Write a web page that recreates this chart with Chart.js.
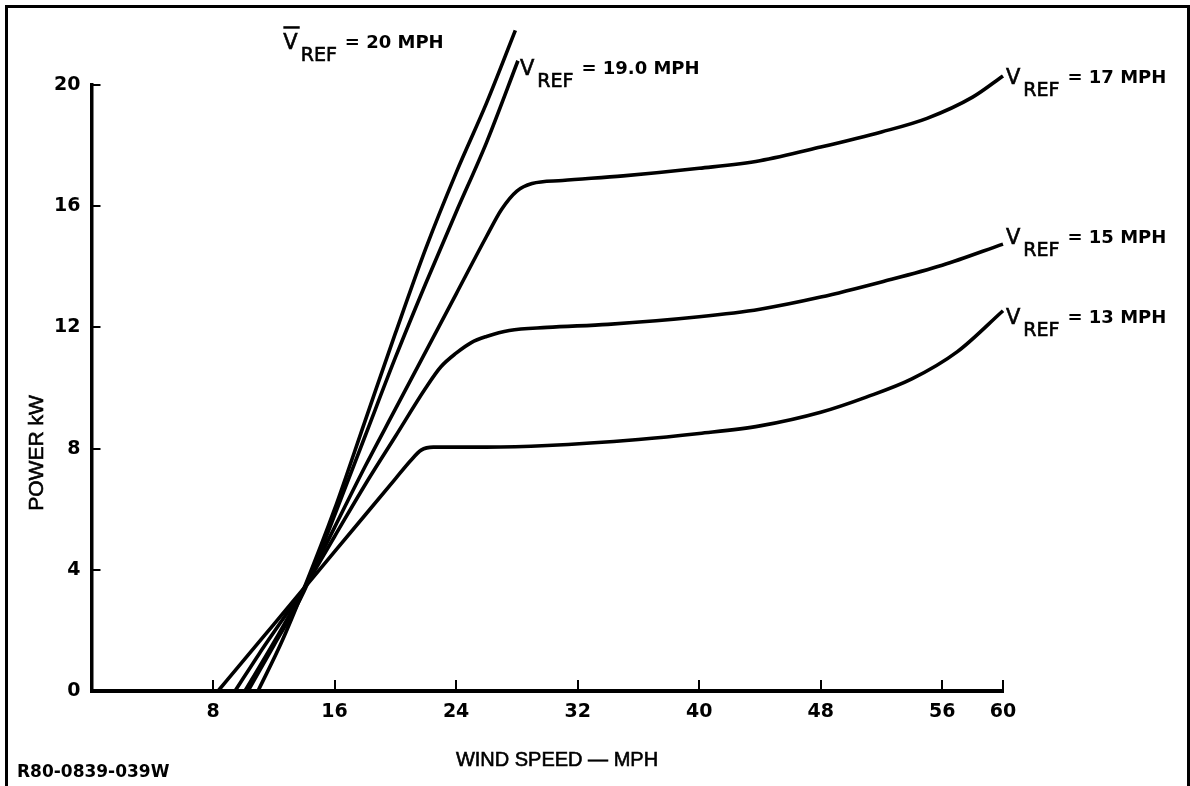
<!DOCTYPE html>
<html>
<head>
<meta charset="utf-8">
<title>Power vs wind speed</title>
<script src="https://cdn.jsdelivr.net/npm/chart.js@4.4.1/dist/chart.umd.min.js"></script>
<style>
  html, body { margin:0; padding:0; background:#fff; }
  #wrap { position:relative; width:1190px; height:786px; }
</style>
</head>
<body>
<div id="wrap"><canvas id="power-chart" width="1190" height="786"></canvas></div>
<script>
// ============================================================
//  DATA: power output (kW) against wind speed (mph), one curve per V_REF
// ============================================================
var xTickValues = [8, 16, 24, 32, 40, 48, 56, 60];
var yTickStep = 4;

var refSpeedLabels = ['20 MPH', '19.0 MPH', '17 MPH', '15 MPH', '13 MPH'];

var speed20 = [10.96, 12.5, 14, 16, 18, 20, 22, 24, 26, 27.9];
var power20 = [0, 1.6, 3.4, 6.0, 8.9, 11.8, 14.6, 17.1, 19.4, 21.8];

var speed19 = [10.3, 12, 14, 16, 18, 20, 22, 24, 26, 28.07];
var power19 = [0, 1.5, 3.3, 5.8, 8.4, 11.0, 13.45, 15.8, 18.1, 20.8];

var speed17 = [10.1, 12, 14, 16, 18, 20, 22, 24, 26, 27, 28, 29, 31, 35, 40, 44, 48, 52, 55, 58, 60];
var power17 = [0, 1.6, 3.4, 5.4, 7.4, 9.3, 11.2, 13.1, 15.0, 15.9, 16.5, 16.75, 16.85, 17.0, 17.25, 17.5, 17.95, 18.45, 18.9, 19.6, 20.3];

var speed15 = [9.45, 11, 12.5, 14, 16, 18, 20, 22, 23, 24, 25, 26, 27.5, 30, 34, 40, 44, 48, 52, 56, 60];
var power15 = [0, 1.2, 2.3, 3.4, 5.1, 6.8, 8.4, 10.0, 10.7, 11.15, 11.5, 11.7, 11.9, 12.0, 12.1, 12.35, 12.6, 13.0, 13.5, 14.05, 14.75];

var speed13 = [8.33, 10, 12, 14, 16, 18, 20, 21, 21.7, 22.5, 26, 30, 36, 40, 44, 48, 51, 54, 57, 60];
var power13 = [0, 1.0, 2.2, 3.4, 4.6, 5.8, 7.0, 7.6, 7.95, 8.05, 8.05, 8.1, 8.3, 8.5, 8.75, 9.2, 9.7, 10.3, 11.2, 12.55];

var curveSpeeds = [speed20, speed19, speed17, speed15, speed13];
var curvePowers = [power20, power19, power17, power15, power13];

// ============================================================
//  DRAWING
// ============================================================
var TICK_FONT = { family: '"DejaVu Sans", sans-serif', size: 19, weight: 'bold' };

// where each "V_REF = ..." label sits relative to the end of its curve
var labelOffsets = [[-232, 19], [2, 14], [3, 8], [3, 0], [3, 13]];

function toPoints(xs, ys) {
  return xs.map(function(x, i) { return { x: x, y: ys[i] }; });
}

// fill + hairline stroke so the lettering reads a little heavier
function heavyText(ctx, text, x, y) {
  ctx.fillText(text, x, y);
  ctx.lineWidth = 0.6;
  ctx.strokeText(text, x, y);
}

var annotate = {
  id: 'annotate',
  afterDraw: function(chart) {
    var ctx = chart.ctx, xs = chart.scales.x, ys = chart.scales.y, area = chart.chartArea;
    ctx.save();
    ctx.strokeStyle = '#000';
    ctx.fillStyle = '#000';
    ctx.lineCap = 'butt';

    // tick marks point into the plot
    ctx.lineWidth = 2;
    xTickValues.forEach(function(v) {
      var px = Math.round(xs.getPixelForValue(v));
      ctx.beginPath(); ctx.moveTo(px, area.bottom); ctx.lineTo(px, area.bottom - 11); ctx.stroke();
    });
    ys.ticks.forEach(function(t) {
      if (t.value === 0) return;
      var py = Math.round(ys.getPixelForValue(t.value));
      ctx.beginPath(); ctx.moveTo(area.left, py); ctx.lineTo(area.left + 9, py); ctx.stroke();
    });

    // axis titles
    ctx.textAlign = 'center';
    ctx.textBaseline = 'middle';
    ctx.font = '20px "Liberation Sans", sans-serif';
    heavyText(ctx, 'WIND SPEED \u2014 MPH', 557, 760);
    ctx.save();
    ctx.translate(37, 453);
    ctx.rotate(-Math.PI / 2);
    ctx.font = '21px "Liberation Sans", sans-serif';
    heavyText(ctx, 'POWER kW', 0, 0);
    ctx.restore();

    // curve labels: V(REF) = n MPH
    ctx.textAlign = 'left';
    ctx.textBaseline = 'alphabetic';
    chart.data.datasets.forEach(function(ds, i) {
      var last = ds.data[ds.data.length - 1];
      var x = xs.getPixelForValue(last.x) + labelOffsets[i][0];
      var y = ys.getPixelForValue(last.y) + labelOffsets[i][1];
      ctx.font = '21px "DejaVu Sans", sans-serif';
      heavyText(ctx, 'V', x, y);
      var vw = ctx.measureText('V').width;
      if (i === 0) {
        ctx.lineWidth = 2.5;
        ctx.beginPath(); ctx.moveTo(x, y - 22); ctx.lineTo(x + vw + 2, y - 22); ctx.stroke();
      }
      ctx.font = '19px "DejaVu Sans", sans-serif';
      heavyText(ctx, 'REF', x + vw + 3, y + 12);
      var rw = ctx.measureText('REF').width;
      ctx.font = 'bold 18px "DejaVu Sans", sans-serif';
      ctx.fillText('= ' + refSpeedLabels[i], x + vw + rw + 11, y - 1);
    });

    // drawing number
    ctx.font = 'bold 17px "DejaVu Sans", sans-serif';
    ctx.fillText('R80-0839-039W', 17, 777);

    // sheet frame
    ctx.lineWidth = 3;
    ctx.beginPath();
    ctx.moveTo(6.5, 786); ctx.lineTo(6.5, 6.5); ctx.lineTo(1188.5, 6.5); ctx.lineTo(1188.5, 786);
    ctx.stroke();
    ctx.restore();
  }
};

new Chart(document.getElementById('power-chart'), {
  type: 'line',
  data: {
    datasets: curveSpeeds.map(function(sp, i) {
      return {
        label: 'V_REF = ' + refSpeedLabels[i],
        data: toPoints(sp, curvePowers[i]),
        borderColor: '#000',
        borderWidth: 3.6,
        pointRadius: 0,
        cubicInterpolationMode: 'monotone',
        fill: false,
        clip: false
      };
    })
  },
  options: {
    responsive: false,
    animation: false,
    events: [],
    layout: { padding: { left: 0, right: 187, top: 85, bottom: 0 } },
    plugins: { legend: { display: false }, tooltip: { enabled: false } },
    scales: {
      x: {
        type: 'linear', min: 0, max: 60,
        afterFit: function(s) { s.height = 95; },
        afterBuildTicks: function(s) { s.ticks = xTickValues.map(function(v) { return { value: v }; }); },
        grid: { display: false, drawTicks: false },
        border: { display: true, color: '#000', width: 4 },
        ticks: { color: '#000', font: TICK_FONT, padding: 10, maxRotation: 0, autoSkip: false }
      },
      y: {
        type: 'linear', min: 0, max: 20,
        afterFit: function(s) { s.width = 91.5; },
        grid: { display: false, drawTicks: false },
        border: { display: true, color: '#000', width: 3.5 },
        ticks: { color: '#000', font: TICK_FONT, padding: 11, stepSize: yTickStep }
      }
    }
  },
  plugins: [annotate]
});
</script>
</body>
</html>
